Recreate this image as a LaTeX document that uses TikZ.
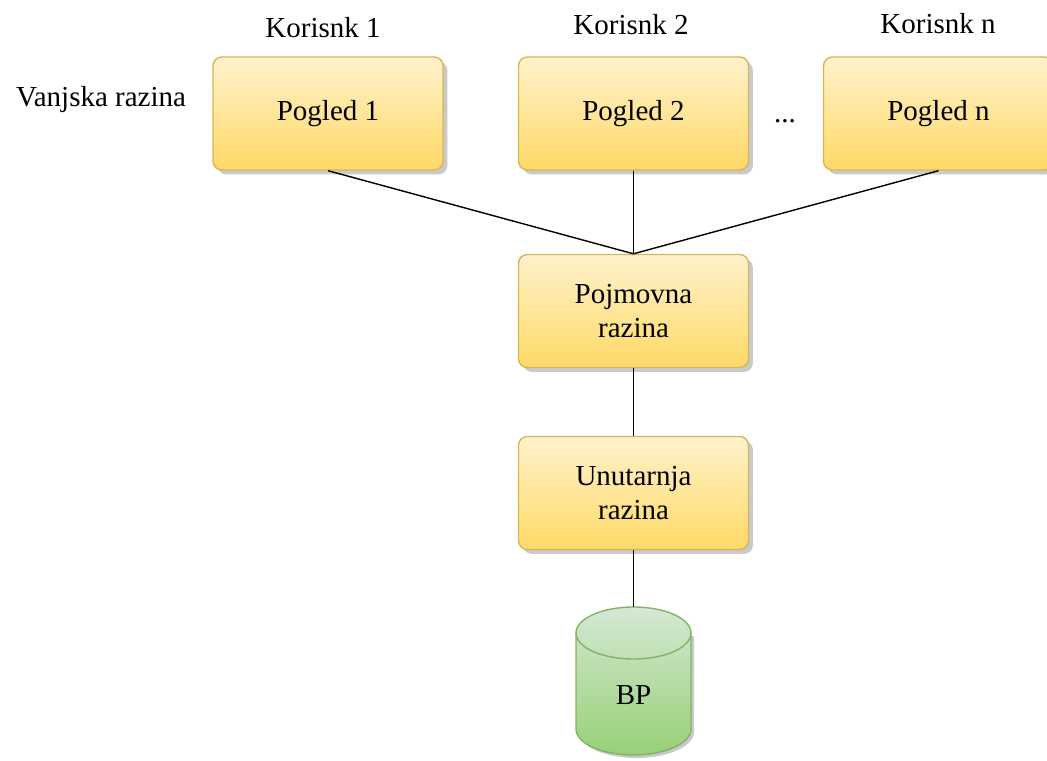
\documentclass[tikz,border=0pt]{standalone}
\usepackage{fontspec}
\setmainfont{Liberation Serif}
\usetikzlibrary{shadows}

\definecolor{boxtop}{HTML}{FFF2CC}
\definecolor{boxbot}{HTML}{FFD966}
\definecolor{boxline}{HTML}{D6B656}
\definecolor{dbtop}{HTML}{D5E8D4}
\definecolor{dbbot}{HTML}{97D077}
\definecolor{dbline}{HTML}{82B366}

\tikzset{
  level/.style={rectangle, rounded corners=5pt, draw=boxline, line width=0.8pt,
    top color=boxtop, bottom color=boxbot,
    minimum width=4.6cm, minimum height=2.26cm, align=center,
    drop shadow={shadow xshift=2.5pt, shadow yshift=-2.5pt, fill=black!35, opacity=0.6}},
  link/.style={line width=0.8pt, black}
}

\begin{document}
\begin{tikzpicture}[x=0.02cm, y=-0.02cm, font=\fontsize{16.5}{19}\selectfont]
      \useasboundingbox (0,0) rectangle (1047,760);

      % Views of the outer level
      \node[level] (p1) at (328,113.5) {Pogled 1};
      \node[level] (p2) at (633.5,113.5) {Pogled 2};
      \node[level] (pn) at (938.5,113.5) {Pogled n};

      % Users
      \node (k1) at (323,28) {Korisnk 1};
      \node (k2) at (631,25) {Korisnk 2};
      \node (kn) at (938,24) {Korisnk n};
      \node (vanj) at (101,100) {Vanjska razina};
      \node (dots) at (785,121) {...};

      % Conceptual and internal level
      \node[level] (pojm) at (633.5,311) {Pojmovna\\razina};
      \node[level] (unut) at (633.5,493) {Unutarnja\\razina};

      % Database cylinder
      \coordinate (bptop) at (633.5,607);
      \fill[black!35, opacity=0.6] (579,636) -- (579,732)
        arc[start angle=180, end angle=0, x radius=57.5, y radius=26]
        -- (694,636) -- cycle;
      \shade[top color=dbtop, bottom color=dbbot, draw=dbline, line width=0.8pt]
        (576,633) -- (576,729)
        arc[start angle=180, end angle=0, x radius=57.5, y radius=26]
        -- (691,633)
        arc[start angle=0, end angle=-180, x radius=57.5, y radius=26];
      \draw[dbline, line width=0.8pt] (576,633)
        arc[start angle=180, end angle=0, x radius=57.5, y radius=26];
      \node (bp) at (633.5,695) {BP};

      % Connectors
      \draw[link] (p1.south) -- (pojm.north);
      \draw[link] (p2.south) -- (pojm.north);
      \draw[link] (pn.south) -- (pojm.north);
      \draw[link] (pojm.south) -- (unut.north);
      \draw[link] (unut.south) -- (bptop);
\end{tikzpicture}
\end{document}
